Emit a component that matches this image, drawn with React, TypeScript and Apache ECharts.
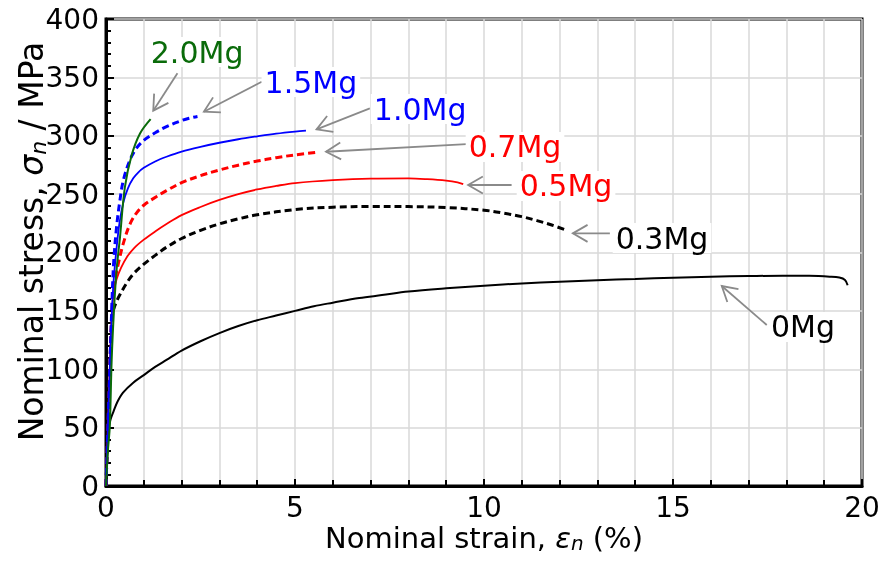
import React, { useEffect, useRef } from 'react';
import * as echarts from 'echarts';

const FONT = '"DejaVu Sans", "Liberation Sans", sans-serif';

// Axis ticks
const xTickValues = [0, 5, 10, 15, 20];
const yTickValues = [0, 50, 100, 150, 200, 250, 300, 350, 400];

// 0Mg (black solid)
const strain0Mg = [0, 0.04, 0.07, 0.12, 0.2, 0.3, 0.45, 0.72, 1.0, 1.3, 1.6, 2.0, 2.5, 3.0, 3.5, 4.0, 4.5, 5.0, 5.5, 6.0, 6.7, 7.3, 8.0, 9.0, 10.0, 11.0, 12.0, 13.0, 14.0, 15.0, 16.0, 17.0, 17.9, 18.6, 19.15, 19.4, 19.55, 19.62];
const stress0Mg = [0, 30, 48, 57, 64, 72, 80, 88.5, 95, 102, 108, 116, 124, 131, 137, 142, 146, 150, 154, 157, 161, 163.5, 166.5, 169.3, 171.6, 173.5, 175, 176.3, 177.3, 178.4, 179.3, 179.8, 180.1, 180, 179.3, 178.5, 176.5, 172];

// 0.3Mg (black dashed)
const strain03Mg = [0, 0.05, 0.1, 0.15, 0.2, 0.28, 0.37, 0.55, 0.72, 1.0, 1.3, 1.6, 2.0, 2.5, 3.0, 3.5, 4.0, 5.0, 6.0, 7.0, 8.0, 9.0, 10.0, 10.5, 11.0, 11.4, 11.75, 12.14];
const stress03Mg = [0, 50, 100, 140, 151, 158, 164, 174, 181.5, 190, 197.5, 204.5, 212, 219, 224.5, 228.8, 232.3, 236.8, 238.8, 239.4, 239.3, 238.5, 236.2, 233.8, 230.7, 227.3, 224, 219.5];

// 0.5Mg (red solid)
const strain05Mg = [0, 0.05, 0.1, 0.15, 0.2, 0.28, 0.4, 0.55, 0.75, 1.0, 1.3, 1.6, 2.0, 2.5, 3.0, 3.5, 4.0, 4.5, 5.0, 6.0, 7.0, 8.0, 8.5, 9.0, 9.3, 9.45];
const stress05Mg = [0, 50, 100, 145, 165, 177, 187, 196, 204, 211, 218, 224.4, 232, 239, 245, 250, 254, 257, 259.5, 262, 263.3, 263.5, 262.8, 261.5, 260, 258.5];

// 0.7Mg (red dashed)
const strain07Mg = [0, 0.05, 0.1, 0.15, 0.2, 0.26, 0.33, 0.46, 0.63, 0.81, 1.0, 1.34, 1.6, 2.0, 2.5, 3.0, 3.5, 4.0, 4.5, 5.0, 5.62];
const stress07Mg = [0, 50, 100, 145, 168, 180, 191, 208, 224, 234, 240.5, 248, 253, 259.8, 265.8, 270.7, 274.8, 278.3, 281.2, 283.6, 286];

// 1.0Mg (blue solid)
const strain10Mg = [0, 0.05, 0.1, 0.15, 0.2, 0.28, 0.36, 0.46, 0.58, 0.72, 0.85, 1.0, 1.3, 1.6, 2.0, 2.5, 3.0, 3.5, 4.0, 4.5, 5.0, 5.29];
const stress10Mg = [0, 50, 100, 145, 175, 204, 226, 243, 255, 263.5, 268.5, 272.5, 278, 282, 286.4, 290.5, 294, 297, 299.5, 301.8, 303.6, 304.4];

// 1.5Mg (blue dashed)
const strain15Mg = [0, 0.05, 0.1, 0.15, 0.2, 0.28, 0.37, 0.46, 0.63, 0.8, 1.0, 1.3, 1.6, 2.0, 2.2, 2.42];
const stress15Mg = [0, 50, 100, 150, 190, 222, 245, 262, 279, 289, 296, 302.5, 307.8, 313, 315, 316.5];

// 2.0Mg (green solid)
const strain20Mg = [0, 0.05, 0.1, 0.15, 0.21, 0.28, 0.37, 0.5, 0.68, 0.9, 1.18];
const stress20Mg = [0, 30, 51, 108, 150, 185, 213, 256, 283.5, 302, 314.3];

// Annotation labels (text centre, arrow tail, arrow tip in data units)
const annoLabels = ['2.0Mg', '1.5Mg', '1.0Mg', '0.7Mg', '0.5Mg', '0.3Mg', '0Mg'];
const annoTextX = [2.41, 5.42, 8.31, 10.82, 12.17, 14.71, 18.44];
const annoTextY = [371.7, 346, 322.9, 290.4, 257, 212.4, 136.2];
const annoTailX = [1.89, 4.12, 6.98, 9.54, 10.73, 13.33, 17.48];
const annoTailY = [353.5, 346.3, 323.5, 292.9, 257.8, 216.4, 137.9];
const annoTipX = [1.25, 2.59, 5.57, 5.82, 9.58, 12.35, 16.29];
const annoTipY = [321.5, 320.6, 305.5, 286.3, 257.8, 216.4, 171.3];

const GREEN = '#0a6b0a';
const RED = '#ff0000';
const BLUE = '#0000ff';
const BLACK = '#000000';
const annoColors = [GREEN, BLUE, BLUE, RED, RED, BLACK, BLACK];

const zip = (xs: number[], ys: number[]) => xs.map((x, i) => [x, ys[i]]);

export default function App() {
  const ref = useRef<HTMLDivElement>(null);

  useEffect(() => {
    if (!ref.current) return;
    const chart = echarts.init(ref.current, undefined, { renderer: 'svg' });

    const curve = (name: string, xs: number[], ys: number[], color: string, dashed: boolean, width: number) => ({
      name,
      type: 'line',
      data: zip(xs, ys),
      showSymbol: false,
      smooth: 0.35,
      lineStyle: { color, width, type: dashed ? [7, 4] : 'solid' },
      z: 3,
      silent: true,
    });

    const gridColor = '#d9d9d9';

    chart.setOption({
      animation: false,
      grid: {
        left: 106, right: 18, top: 19, bottom: 75,
        containLabel: false, outerBoundsMode: 'none',
        show: true, borderColor: '#000', borderWidth: 3, backgroundColor: 'transparent',
      },
      xAxis: {
        type: 'value',
        min: xTickValues[0],
        max: xTickValues[xTickValues.length - 1],
        interval: xTickValues[1] - xTickValues[0],
        name: 'Nominal strain, {i|ε}{sub|n} (%)',
        nameLocation: 'middle',
        nameGap: 37,
        nameMoveOverlap: false,
        nameTextStyle: {
          fontFamily: FONT, fontSize: 29, color: '#000', lineHeight: 30,
          rich: {
            i: { fontFamily: FONT, fontSize: 29, fontStyle: 'italic', color: '#000', lineHeight: 30 },
            sub: { fontFamily: FONT, fontSize: 20, fontStyle: 'italic', color: '#000', lineHeight: 20, verticalAlign: 'bottom' },
          },
        },
        axisLine: { show: true, onZero: false, lineStyle: { color: '#000', width: 3 } },
        axisTick: { show: true, inside: true, length: 7, lineStyle: { color: '#000', width: 2 } },
        minorTick: { show: true, splitNumber: 5, length: 6, lineStyle: { color: '#000', width: 2 } },
        axisLabel: { fontFamily: FONT, fontSize: 28, color: '#000', margin: 8, lineHeight: 26 },
        splitLine: { show: true, lineStyle: { color: gridColor, width: 1.5 } },
        minorSplitLine: { show: true, lineStyle: { color: gridColor, width: 1.5 } },
      },
      yAxis: {
        type: 'value',
        min: yTickValues[0],
        max: yTickValues[yTickValues.length - 1],
        interval: yTickValues[1] - yTickValues[0],
        name: 'Nominal stress, {i|σ}{sub|n} / MPa',
        nameLocation: 'middle',
        nameRotate: 90,
        nameGap: 57,
        nameMoveOverlap: false,
        nameTextStyle: {
          fontFamily: FONT, fontSize: 33, color: '#000', lineHeight: 36, padding: [0, 0, 0, 22],
          rich: {
            i: { fontFamily: FONT, fontSize: 33, fontStyle: 'italic', color: '#000', lineHeight: 36 },
            sub: { fontFamily: FONT, fontSize: 22, fontStyle: 'italic', color: '#000', lineHeight: 22, verticalAlign: 'bottom' },
          },
        },
        axisLine: { show: true, onZero: false, lineStyle: { color: '#000', width: 3 } },
        axisTick: { show: true, inside: true, length: 8, lineStyle: { color: '#000', width: 2 } },
        minorTick: { show: true, splitNumber: 5, length: 5, lineStyle: { color: '#000', width: 2 } },
        axisLabel: { fontFamily: FONT, fontSize: 28, color: '#000', margin: 7 },
        splitLine: { show: true, lineStyle: { color: gridColor, width: 1.5 } },
        minorSplitLine: { show: false },
      },
      series: [
        curve('0Mg', strain0Mg, stress0Mg, BLACK, false, 2),
        curve('0.3Mg', strain03Mg, stress03Mg, BLACK, true, 3),
        curve('0.5Mg', strain05Mg, stress05Mg, RED, false, 1.8),
        curve('0.7Mg', strain07Mg, stress07Mg, RED, true, 3),
        curve('1.0Mg', strain10Mg, stress10Mg, BLUE, false, 1.8),
        curve('1.5Mg', strain15Mg, stress15Mg, BLUE, true, 3),
        curve('2.0Mg', strain20Mg, stress20Mg, GREEN, false, 2),
        {
          name: 'labels',
          type: 'custom',
          silent: true,
          clip: false,
          z: 10,
          data: annoLabels.map((_, i) => [annoTipX[i], annoTipY[i], i]),
          encode: { x: 0, y: 1 },
          renderItem: (params: any, api: any) => {
            const i = api.value(2);
            const tip = api.coord([annoTipX[i], annoTipY[i]]);
            const tail = api.coord([annoTailX[i], annoTailY[i]]);
            const txt = api.coord([annoTextX[i], annoTextY[i]]);
            const dx = tip[0] - tail[0];
            const dy = tip[1] - tail[1];
            const len = Math.sqrt(dx * dx + dy * dy) || 1;
            const ux = dx / len;
            const uy = dy / len;
            const hl = 17;
            const ang = (30 * Math.PI) / 180;
            const rot = (a: number) => [
              tip[0] - hl * (ux * Math.cos(a) - uy * Math.sin(a)),
              tip[1] - hl * (ux * Math.sin(a) + uy * Math.cos(a)),
            ];
            const p1 = rot(ang);
            const p2 = rot(-ang);
            const stroke = '#8a8a8a';
            return {
              type: 'group',
              children: [
                { type: 'line', shape: { x1: tail[0], y1: tail[1], x2: tip[0], y2: tip[1] }, style: { stroke, lineWidth: 1.8 } },
                { type: 'polyline', shape: { points: [p1, tip, p2] }, style: { stroke, fill: 'none', lineWidth: 1.8 } },
                {
                  type: 'text',
                  x: txt[0],
                  y: txt[1],
                  style: {
                    text: annoLabels[i],
                    fill: annoColors[i],
                    fontFamily: FONT,
                    fontSize: 30,
                    align: 'center',
                    verticalAlign: 'middle',
                    backgroundColor: '#ffffff',
                    padding: [0, 3],
                  },
                },
              ],
            };
          },
        },
      ],
    });

    return () => chart.dispose();
  }, []);

  return <div ref={ref} style={{ position: 'fixed', left: 0, top: 0, width: 880, height: 561 }} />;
}
